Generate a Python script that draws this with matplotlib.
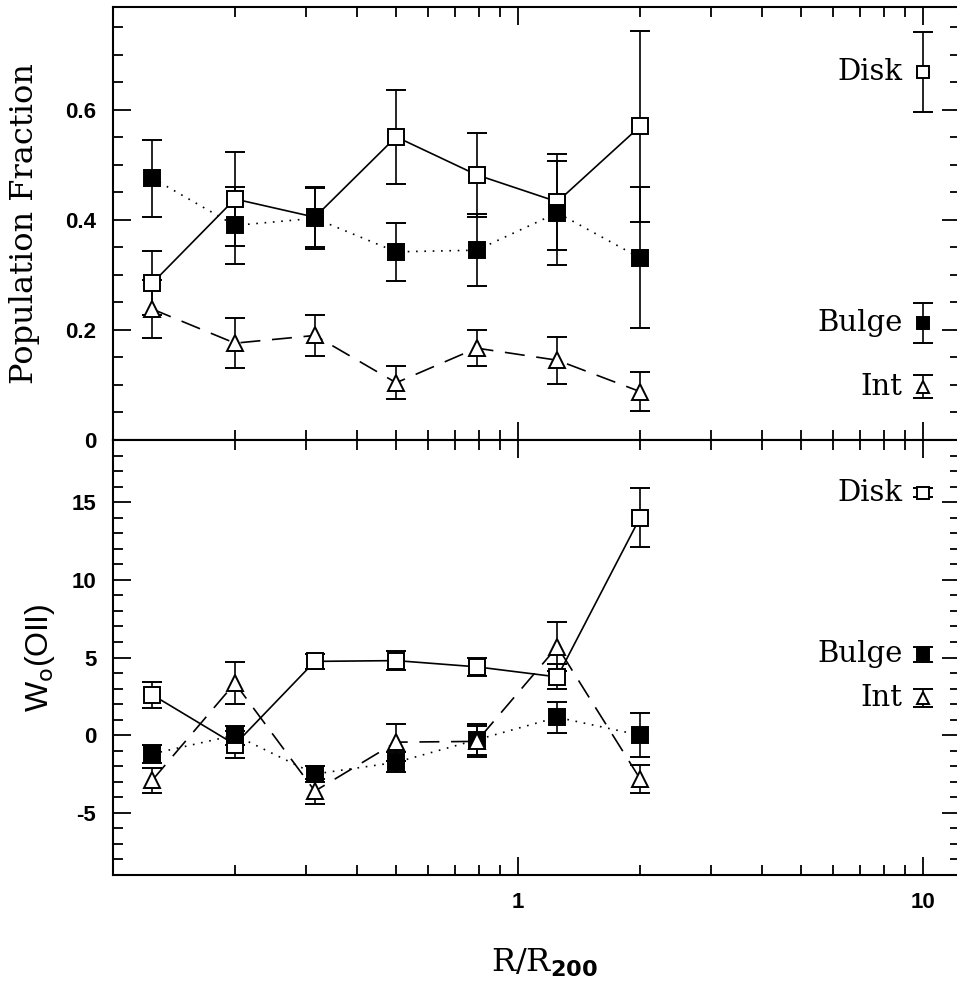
import matplotlib
matplotlib.use('Agg')
import matplotlib.pyplot as plt
from matplotlib.ticker import FixedLocator, MultipleLocator, NullFormatter

# radial bins R/R200
r = [0.125, 0.2, 0.315, 0.5, 0.79, 1.25, 2.0]
r_field = 10.0

# population fractions
disk_frac = [0.285, 0.438, 0.405, 0.551, 0.482, 0.433, 0.570]
disk_frac_err = [0.058, 0.085, 0.055, 0.085, 0.076, 0.087, 0.173]
bulge_frac = [0.476, 0.390, 0.403, 0.342, 0.345, 0.413, 0.331]
bulge_frac_err = [0.070, 0.070, 0.055, 0.053, 0.066, 0.095, 0.128]
int_frac = [0.238, 0.176, 0.190, 0.104, 0.167, 0.145, 0.088]
int_frac_err = [0.053, 0.045, 0.038, 0.030, 0.033, 0.043, 0.036]

# W0(OII)
disk_w = [2.6, -0.6, 4.75, 4.8, 4.4, 3.75, 14.0]
disk_w_err = [0.85, 0.9, 0.5, 0.6, 0.6, 0.8, 1.9]
bulge_w = [-1.2, 0.0, -2.5, -1.75, -0.3, 1.15, 0.0]
bulge_w_err = [0.6, 0.6, 0.5, 0.65, 1.0, 1.0, 1.4]
int_w = [-2.9, 3.35, -3.6, -0.45, -0.4, 5.7, -2.8]
int_w_err = [0.8, 1.35, 0.8, 1.2, 1.0, 1.6, 0.9]

# field values drawn as the key at R = 10
field_frac = {'Disk': (0.669, 0.073), 'Bulge': (0.213, 0.036), 'Int': (0.097, 0.021)}
field_w = {'Disk': (15.6, 0.3), 'Bulge': (5.2, 0.5), 'Int': (2.4, 0.6)}

styles = {
    'Disk': dict(marker='s', mfc='white', ms=11, ls='-'),
    'Bulge': dict(marker='s', mfc='black', ms=11, ls=(0, (1, 4))),
    'Int': dict(marker='^', mfc='white', ms=12, ls=(0, (12, 7))),
}

serif = ['DejaVu Serif']
sans = ['Liberation Sans', 'DejaVu Sans']

fig = plt.figure(figsize=(9.57, 9.86), dpi=100)
left, width = 113 / 957, 847 / 957
ax1 = fig.add_axes([left, 1 - 440 / 986, width, 433 / 986])
ax2 = fig.add_axes([left, 1 - 875 / 986, width, 435 / 986])


def draw(ax, series, field):
    for name, (y, e) in series.items():
        st = styles[name]
        ax.errorbar(r, y, yerr=e, color='black', mec='black', lw=1.2,
                    elinewidth=1.2, capsize=7, capthick=1.3, marker=st['marker'],
                    mfc=st['mfc'], ms=st['ms'], ls=st['ls'], mew=1.4)
        fy, fe = field[name]
        ax.errorbar([r_field], [fy], yerr=[fe], color='black', mec='black',
                    elinewidth=1.2, capsize=7, capthick=1.3, marker=st['marker'],
                    mfc=st['mfc'], ms=st['ms'] * 0.75, ls='none', mew=1.4)
        ax.annotate(name, (r_field, fy), xytext=(-15, 0), textcoords='offset points',
                    ha='right', va='center', fontsize=21, family=serif)


draw(ax1, {'Disk': (disk_frac, disk_frac_err), 'Bulge': (bulge_frac, bulge_frac_err),
           'Int': (int_frac, int_frac_err)}, field_frac)
draw(ax2, {'Disk': (disk_w, disk_w_err), 'Bulge': (bulge_w, bulge_w_err),
           'Int': (int_w, int_w_err)}, field_w)

for ax in (ax1, ax2):
    ax.set_xscale('log')
    ax.set_xlim(0.1, 12.33)
    ax.xaxis.set_major_locator(FixedLocator([1, 10]))
    ax.xaxis.set_minor_locator(FixedLocator([0.2, 0.3, 0.4, 0.5, 0.6, 0.7, 0.8, 0.9,
                                             2, 3, 4, 5, 6, 7, 8, 9]))
    ax.xaxis.set_minor_formatter(NullFormatter())
    ax.tick_params(which='both', direction='in', top=True, right=True, width=1.3,
                   labelsize=16, pad=12)
    ax.tick_params(which='major', length=13)
    ax.tick_params(which='minor', length=7)
    for s in ax.spines.values():
        s.set_linewidth(1.5)

ax1.set_ylim(0, 0.787)
ax1.yaxis.set_major_locator(FixedLocator([0, 0.2, 0.4, 0.6]))
ax1.set_yticklabels(['0', '0.2', '0.4', '0.6'], family=sans, weight='bold')
ax1.yaxis.set_minor_locator(MultipleLocator(0.05))
ax1.set_xticklabels([])

ax2.set_ylim(-9, 19)
ax2.yaxis.set_major_locator(FixedLocator([-5, 0, 5, 10, 15]))
ax2.set_yticklabels(['-5', '0', '5', '10', '15'], family=sans, weight='bold')
ax2.yaxis.set_minor_locator(MultipleLocator(1))
ax2.set_xticklabels(['1', '10'], family=sans, weight='bold')

ax1.text(-0.104, 0.5, 'Population Fraction', transform=ax1.transAxes, rotation=90,
         ha='center', va='center', fontsize=23, family=serif)
ax2.text(-0.086, 0.5, r'W$_\mathsf{o}$(OII)', transform=ax2.transAxes, rotation=90,
         ha='center', va='center', fontsize=23, family=sans)
ax2.text(0.51, -0.202, r'R/R$_{\mathbf{200}}$', transform=ax2.transAxes,
         ha='center', va='center', fontsize=23, family=serif)

fig.savefig('out.png', dpi=100)
